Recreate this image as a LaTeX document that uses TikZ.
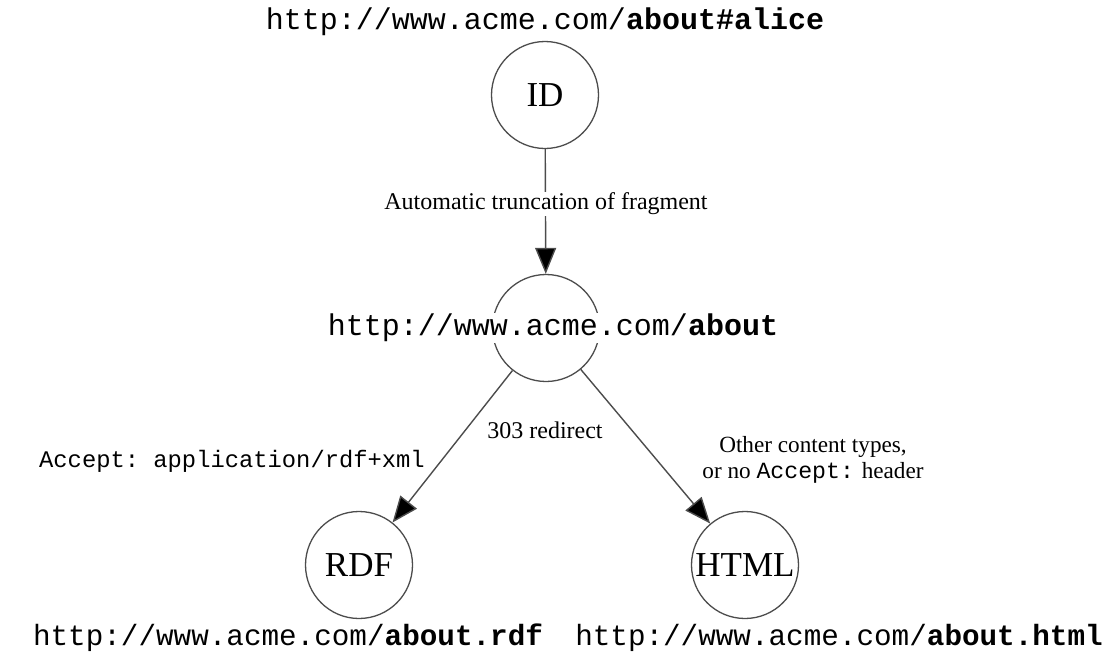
\documentclass[tikz,border=0pt]{standalone}
\usepackage{fontspec}
\setmainfont{Liberation Serif}
\setmonofont{Liberation Mono}
\usetikzlibrary{arrows.meta}
\tikzset{
  state/.style={circle, draw=black!70, line width=1.3pt, minimum size=107pt, inner sep=0pt, font=\fontsize{35}{40}\selectfont},
  url/.style={font=\ttfamily\fontsize{30}{34}\selectfont, inner sep=1pt},
  urlsmall/.style={font=\ttfamily\fontsize{29.3}{34}\selectfont, inner sep=1pt},
  lbl/.style={font=\fontsize{24}{26}\selectfont, inner sep=1pt},
  conn/.style={draw=black!70, line width=1.4pt, -{Triangle[length=26pt,width=21pt,fill=black]}}
}
\begin{document}
\begin{tikzpicture}[x=1pt,y=-1pt]
\useasboundingbox (0,0) rectangle (1108,656);
\node[state] (id) at (545,95) {ID};
\node[state] (mid) at (546,328) {};
\node[state] (rdf) at (359,565) {RDF};
\node[state] (html) at (745,565) {HTML};
\node[url, fill=white] (midurl) at (553,328) {http://www.acme.com/\textbf{about}};
\node[url] (topurl) at (545,22) {http://www.acme.com/\textbf{about\#alice}};
\node[urlsmall] (rdfurl) at (288,638) {http://www.acme.com/\textbf{about.rdf}};
\node[urlsmall] (htmlurl) at (839,638) {http://www.acme.com/\textbf{about.html}};
\draw[conn] (id) -- (mid);
\draw[conn] (mid) -- (rdf);
\draw[conn] (mid) -- (html);
\node[lbl, fill=white] (trunc) at (546,204) {Automatic truncation of fragment};
\node[lbl] (redir) at (545,430) {303 redirect};
\node[font=\ttfamily\fontsize{23.8}{26}\selectfont, inner sep=1pt] (acc) at (232,461) {Accept: application/rdf+xml};
\node[font=\fontsize{23.2}{26}\selectfont, inner sep=1pt, align=center] (other) at (813,460) {Other content types,\\or no \texttt{Accept:} header};
\end{tikzpicture}
\end{document}
